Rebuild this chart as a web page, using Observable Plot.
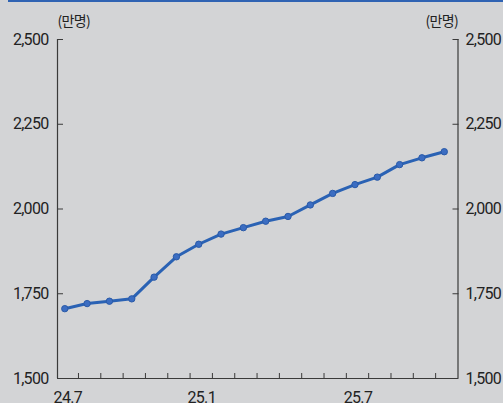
<!DOCTYPE html>
<html>
<head>
<meta charset="utf-8">
<script src="https://cdn.jsdelivr.net/npm/d3@7"></script>
<script src="https://cdn.jsdelivr.net/npm/@observablehq/plot@0.6"></script>
<style>
  html, body { margin: 0; padding: 0; background: #d3d4d6; }
  #wrap { position: relative; width: 503px; height: 403px; overflow: hidden; background: #d3d4d6; }
  #topbar { position: absolute; top: 0; left: 8px; right: 0; height: 2px; background: #2f63b3; }
  svg { display: block; }
  svg text { letter-spacing: -0.7px; }
</style>
</head>
<body>
<div id="wrap"><div id="topbar"></div></div>
<script>
// Monthly series, 24.7 .. 25.12 (unit: 만명)
const months = ["24.7","24.8","24.9","24.10","24.11","24.12","25.1","25.2","25.3","25.4","25.5","25.6","25.7","25.8","25.9","25.10","25.11","25.12"];
const values = [1706, 1721, 1728, 1735, 1799, 1859, 1896, 1926, 1945, 1964, 1978, 2012, 2046, 2072, 2094, 2131, 2151, 2169];
const yTicks = [1500, 1750, 2000, 2250, 2500];
const xLabels = ["24.7", "25.1", "25.7"];
const xLabelIndex = [0, 6, 13];
const unitLabel = "(만명)";

const data = months.map((m, i) => ({i, month: m, value: values[i]}));
const xTickPos = d3.range(months.length - 1).map(i => i + 0.613);
const xDomain = [-0.327, months.length - 1 + 0.615];

const numFont = "'Roboto', sans-serif";
const axisColor = "#3a3a3a";

const chart = Plot.plot({
  width: 503,
  height: 403,
  marginLeft: 57,
  marginRight: 45.5,
  marginTop: 39,
  marginBottom: 25,
  style: {background: "transparent", fontFamily: numFont, fontSize: "16px", color: "#222"},
  x: {domain: xDomain, axis: null, label: null},
  y: {domain: [1500, 2500], axis: null, label: null},
  marks: [
    // axis lines
    Plot.ruleX([xDomain[0], xDomain[1]], {stroke: axisColor, strokeWidth: 1.2}),
    Plot.ruleY([1500], {stroke: axisColor, strokeWidth: 1.2}),
    // inward tick marks
    Plot.axisY({anchor: "left", ticks: yTicks, tickSize: -6, text: null, label: null, stroke: axisColor}),
    Plot.axisY({anchor: "right", ticks: yTicks, tickSize: -6, text: null, label: null, stroke: axisColor}),
    Plot.axisX({anchor: "bottom", ticks: xTickPos, tickSize: -5, text: null, label: null, stroke: axisColor}),
    // tick labels
    Plot.axisY({anchor: "left", ticks: yTicks, tickSize: 0, tickPadding: 9, label: null, tickFormat: d3.format(","), fill: "#222", fontSize: 16}),
    Plot.axisY({anchor: "right", ticks: yTicks, tickSize: 0, tickPadding: 7.5, label: null, tickFormat: d3.format(","), fill: "#222", fontSize: 16}),
    Plot.text(xLabels, {x: (d, k) => xLabelIndex[k], frameAnchor: "bottom", lineAnchor: "top", dy: 13, dx: 3, text: d => d, fill: "#222", fontSize: 16}),
    // unit labels
    Plot.text([unitLabel], {frameAnchor: "top-left", textAnchor: "start", lineAnchor: "middle", dy: -18, text: d => d, fontFamily: "'Noto Sans CJK KR', sans-serif", fontSize: 14, fill: "#222"}),
    Plot.text([unitLabel], {frameAnchor: "top-right", textAnchor: "end", lineAnchor: "middle", dy: -18, text: d => d, fontFamily: "'Noto Sans CJK KR', sans-serif", fontSize: 14, fill: "#222"}),
    // series
    Plot.line(data, {x: "i", y: "value", stroke: "#2a62b4", strokeWidth: 3}),
    Plot.dot(data, {x: "i", y: "value", r: 3.2, fill: "#3b6dc2", stroke: "#2a5aa8", strokeWidth: 1})
  ]
});
document.getElementById("wrap").appendChild(chart);
</script>
</body>
</html>
